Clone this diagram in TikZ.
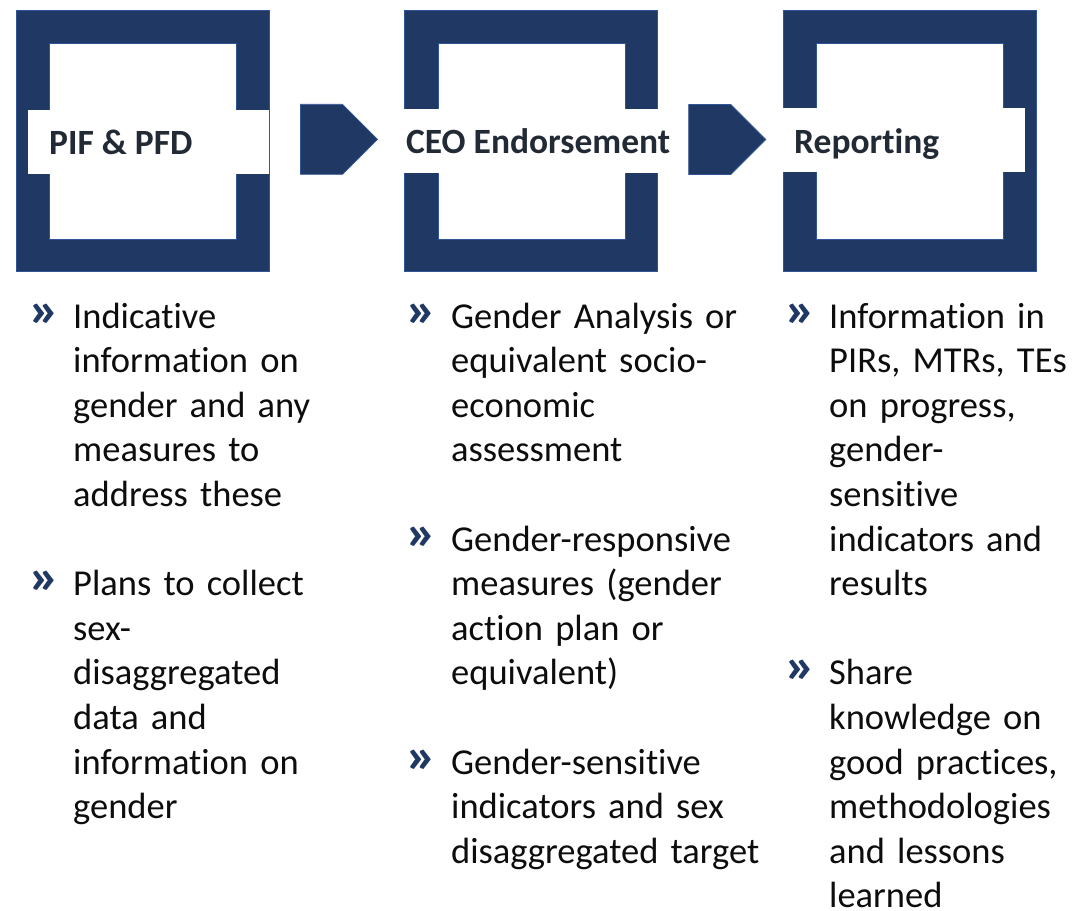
\documentclass[tikz,border=0pt]{standalone}
\usepackage{fontspec}
\setmainfont{Carlito}[Ligatures=NoCommon]
\usepackage{xcolor}
\usepackage{tikz}
\usetikzlibrary{shapes, shapes.symbols, positioning, calc}
\definecolor{navy}{HTML}{203864}
\definecolor{edgeblue}{HTML}{2F5597}
\definecolor{labelgray}{HTML}{222A35}
\definecolor{bodyblack}{HTML}{0D0D0D}
\hyphenpenalty=10000
\newcommand{\chevmark}{\scalebox{1.2}[1]{»}}
\tikzset{
    frame/.style={rectangle, draw=edgeblue, fill=navy, line width=0.8pt, minimum width=253pt, minimum height=261pt, inner sep=0pt},
    hole/.style={rectangle, draw=edgeblue, fill=white, line width=0.8pt, minimum width=187pt, minimum height=196pt, inner sep=0pt},
    band/.style={rectangle, fill=white, minimum height=64pt, inner sep=0pt},
    label/.style={font=\fontsize{35.5}{40}\selectfont\bfseries, text=labelgray, anchor=base west, inner sep=0pt},
    pointer/.style={signal, signal to=east, signal pointer angle=90, fill=navy, draw=edgeblue, line width=0.8pt, minimum width=77pt, minimum height=70pt, inner sep=0pt, anchor=west},
    bullet/.style={font=\fontsize{50}{50}\selectfont\bfseries, text=navy, anchor=base west, inner sep=0pt},
    item/.style={font=\fontsize{36.5}{44.6}\selectfont, text=bodyblack, text width=400pt, align=left, anchor=base west, inner sep=0pt}
}
\begin{document}
\begin{tikzpicture}[x=1pt, y=-1pt]
    \useasboundingbox (0,0) rectangle (1072,911);

    % PIF & PFD
    \node[frame] (f1) at (142.5,141) {};
    \node[hole] (h1) at (142.6,141) {};
    \node[band, minimum width=241pt] (b1) at (148.5,141.5) {};
    \node[label] (l1) at (49,154) {PIF \& PFD};

    % CEO Endorsement
    \node[frame] (f2) at (531.2,141) {};
    \node[hole] (h2) at (531.6,141) {};
    \node[band, minimum width=276pt] (b2) at (538,140.5) {};
    \node[label] (l2) at (406,153) {CEO Endorsement};

    % Reporting
    \node[frame] (f3) at (910,141) {};
    \node[hole] (h3) at (910.3,141) {};
    \node[band, minimum width=242pt] (b3) at (904,140) {};
    \node[label] (l3) at (794,153) {Reporting};

    % Arrows between stages
    \node[pointer] (a1) at (300,139.3) {};
    \node[pointer] (a2) at (688.3,139.5) {};

    % Bullets, first column
    \node[bullet] (m11) at (28,326) {\chevmark};
    \node[item] (t11) at (73,328) {Indicative\\information on\\gender and any\\measures to\\address these};
    \node[bullet] (m12) at (28,593.6) {\chevmark};
    \node[item] (t12) at (73,595.6) {Plans to collect\\sex-\\disaggregated\\data and\\information on\\gender};

    % Bullets, second column
    \node[bullet] (m21) at (405,326) {\chevmark};
    \node[item] (t21) at (451,328) {Gender Analysis or\\equivalent socio-\\economic\\assessment};
    \node[bullet] (m22) at (405,549) {\chevmark};
    \node[item] (t22) at (451,551) {Gender-responsive\\measures (gender\\action plan or\\equivalent)};
    \node[bullet] (m23) at (405,772) {\chevmark};
    \node[item] (t23) at (451,774) {Gender-sensitive\\indicators and sex\\disaggregated target};

    % Bullets, third column
    \node[bullet] (m31) at (784,326) {\chevmark};
    \node[item] (t31) at (829,328) {Information in\\PIRs, MTRs, TEs\\on progress,\\gender-\\sensitive\\indicators and\\results};
    \node[bullet] (m32) at (784,682.8) {\chevmark};
    \node[item] (t32) at (829,684.8) {Share\\knowledge on\\good practices,\\methodologies\\and lessons\\learned};
\end{tikzpicture}
\end{document}
